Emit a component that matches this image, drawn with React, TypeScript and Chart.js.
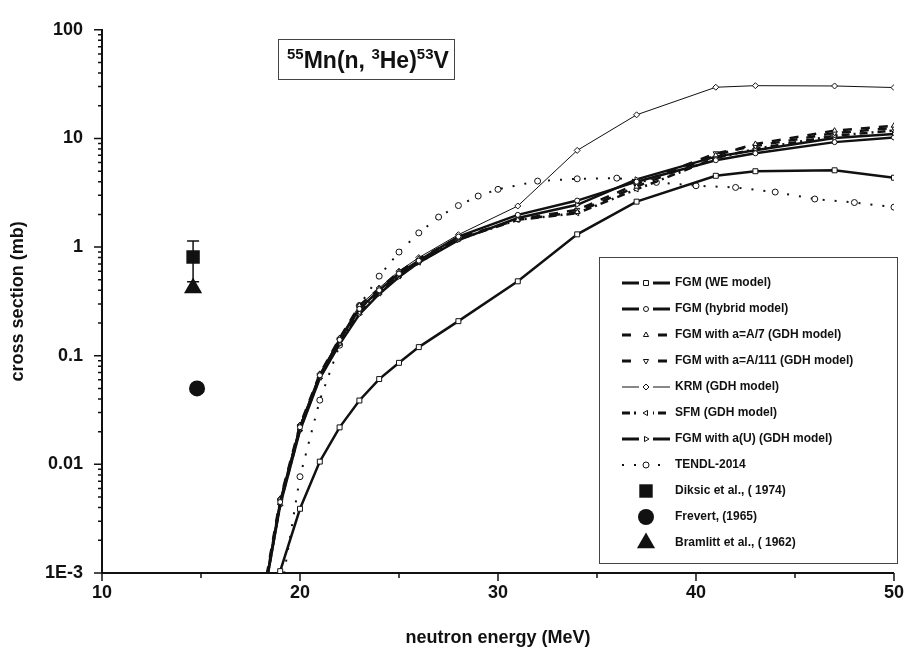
import { useEffect, useRef } from "react";
import { Chart, registerables } from "chart.js";
import { drawPoint } from "chart.js/helpers";

Chart.register(...registerables);

const FONT = "'Liberation Sans', Arial, Helvetica, sans-serif";

// ---- data ----
const modelEnergies = [18, 19, 20, 21, 22, 23, 24, 25, 26, 28, 31, 34, 37, 41, 43, 47, 50];
const fgmWE = [0.0001, 0.00104, 0.0039, 0.0106, 0.0219, 0.0387, 0.061, 0.086, 0.12, 0.208, 0.484, 1.31, 2.62, 4.53, 4.99, 5.09, 4.35];
const fgmHybrid = [0.0004, 0.0045, 0.022, 0.066, 0.14, 0.27, 0.4, 0.57, 0.75, 1.25, 1.98, 2.68, 4.0, 6.3, 7.3, 9.25, 10.2];
const fgmA7 = [0.00045, 0.0048, 0.023, 0.068, 0.145, 0.29, 0.415, 0.59, 0.78, 1.22, 1.78, 2.1, 3.6, 7.0, 8.9, 11.8, 13.1];
const fgmA111 = [0.00042, 0.0046, 0.022, 0.065, 0.138, 0.27, 0.39, 0.56, 0.74, 1.2, 1.8, 2.2, 3.8, 7.3, 8.5, 11.2, 12.5];
const krm = [0.00045, 0.0048, 0.023, 0.068, 0.145, 0.29, 0.42, 0.6, 0.8, 1.3, 2.39, 7.76, 16.5, 29.6, 30.6, 30.4, 29.4];
const sfm = [0.0004, 0.0043, 0.021, 0.063, 0.13, 0.25, 0.375, 0.54, 0.72, 1.18, 1.78, 2.05, 3.4, 6.6, 8.0, 10.6, 11.8];
const fgmAU = [0.0004, 0.0042, 0.0205, 0.062, 0.128, 0.24, 0.37, 0.53, 0.72, 1.16, 1.85, 2.45, 4.2, 6.8, 7.8, 10.1, 11.0];

const tendlEnergies = [19, 20, 21, 22, 23, 24, 25, 26, 27, 28, 29, 30, 32, 34, 36, 38, 40, 42, 44, 46, 48, 50];
const tendlValues = [0.0006, 0.0077, 0.039, 0.125, 0.29, 0.54, 0.9, 1.35, 1.89, 2.41, 2.95, 3.4, 4.05, 4.25, 4.31, 3.94, 3.67, 3.54, 3.21, 2.77, 2.57, 2.33];

const diksicE = [14.6];
const diksicV = [0.81];
const diksicLow = [0.48];
const diksicHigh = [1.14];
const frevertE = [14.8];
const frevertV = [0.05];
const bramlittE = [14.6];
const bramlittV = [0.42];

const xMin = 10;
const xMax = 50;
const xTickValues = [10, 20, 30, 40, 50];
const xMinorTickValues = [15, 25, 35, 45];
const yTickValues = [0.001, 0.01, 0.1, 1, 10, 100];
const yTickLabels = ["1E-3", "0.01", "0.1", "1", "10", "100"];
const yMinorMultipliers = [2, 3, 4, 5, 6, 7, 8, 9];

const titleParts: [string, boolean][] = [
  ["55", true],
  ["Mn(n, ", false],
  ["3", true],
  ["He)", false],
  ["53", true],
  ["V", false],
];

const pts = (xs: number[], ys: number[]) => xs.map((x, i) => ({ x, y: ys[i] }));

const INK = "#111";

function lineDs(label: string, xs: number[], ys: number[], s: any) {
  return {
    label,
    data: pts(xs, ys),
    borderColor: INK,
    backgroundColor: "#fff",
    borderWidth: s.width,
    borderDash: s.dash || [],
    pointStyle: s.point,
    pointRadius: s.r,
    pointRotation: s.rot || 0,
    pointBorderWidth: 1,
    pointBorderColor: INK,
    pointBackgroundColor: "#fff",
    showLine: true,
    tension: 0,
    fill: false,
    legendWidth: s.legendWidth || s.width,
  };
}

function expDs(label: string, xs: number[], ys: number[], s: any) {
  return {
    label,
    data: pts(xs, ys),
    borderColor: INK,
    backgroundColor: INK,
    borderWidth: 0,
    pointStyle: s.point,
    pointRadius: s.r,
    pointRotation: 0,
    pointBorderWidth: 0,
    pointBorderColor: INK,
    pointBackgroundColor: INK,
    showLine: false,
  };
}

const decorPlugin = {
  id: "decor",
  afterDatasetsDraw(chart: any) {
    const ctx = chart.ctx as CanvasRenderingContext2D;
    const { left, bottom } = chart.chartArea;
    const xs = chart.scales.x;
    const ys = chart.scales.y;
    ctx.save();

    // error bars for Diksic
    ctx.strokeStyle = INK;
    ctx.lineWidth = 1.5;
    diksicE.forEach((e, i) => {
      const px = xs.getPixelForValue(e);
      const pl = ys.getPixelForValue(diksicLow[i]);
      const ph = ys.getPixelForValue(diksicHigh[i]);
      ctx.beginPath();
      ctx.moveTo(px, pl);
      ctx.lineTo(px, ph);
      ctx.moveTo(px - 6, ph);
      ctx.lineTo(px + 6, ph);
      ctx.moveTo(px - 6, pl);
      ctx.lineTo(px + 6, pl);
      ctx.stroke();
    });

    // axis ticks (outward)
    ctx.lineWidth = 1.5;
    ctx.beginPath();
    yTickValues.forEach((d) => {
      const py = ys.getPixelForValue(d);
      ctx.moveTo(left - 8, py);
      ctx.lineTo(left, py);
      if (d < 100) {
        yMinorMultipliers.forEach((m) => {
          const pm = ys.getPixelForValue(d * m);
          ctx.moveTo(left - 4, pm);
          ctx.lineTo(left, pm);
        });
      }
    });
    xTickValues.forEach((v) => {
      const px = xs.getPixelForValue(v);
      ctx.moveTo(px, bottom);
      ctx.lineTo(px, bottom + 8);
    });
    xMinorTickValues.forEach((v) => {
      const px = xs.getPixelForValue(v);
      ctx.moveTo(px, bottom);
      ctx.lineTo(px, bottom + 5);
    });
    ctx.stroke();

    // title box
    ctx.fillStyle = "#fff";
    ctx.fillRect(278, 39, 176, 40);
    ctx.strokeStyle = "#444";
    ctx.lineWidth = 1;
    ctx.strokeRect(278.5, 39.5, 176, 40);
    ctx.fillStyle = INK;
    ctx.textBaseline = "alphabetic";
    ctx.textAlign = "left";
    let tx = 287;
    const base = 68;
    titleParts.forEach(([t, sup]) => {
      ctx.font = sup ? `bold 15px ${FONT}` : `bold 23px ${FONT}`;
      ctx.fillText(t, tx, sup ? base - 9 : base);
      tx += ctx.measureText(t).width;
    });

    // legend
    ctx.fillStyle = "#fff";
    ctx.fillRect(599, 257, 298, 306);
    ctx.strokeStyle = "#444";
    ctx.lineWidth = 1;
    ctx.strokeRect(599.5, 257.5, 298, 306);
    chart.data.datasets.forEach((ds: any, i: number) => {
      const y = 283 + i * 26;
      const cx = 646;
      if (ds.showLine) {
        ctx.strokeStyle = INK;
        ctx.lineWidth = ds.legendWidth;
        ctx.setLineDash(ds.borderDash || []);
        ctx.beginPath();
        ctx.moveTo(622, y);
        ctx.lineTo(670, y);
        ctx.stroke();
        ctx.setLineDash([]);
        ctx.fillStyle = "#fff";
        ctx.fillRect(cx - 7, y - 4, 14, 8);
      }
      ctx.fillStyle = ds.pointBackgroundColor;
      ctx.strokeStyle = INK;
      ctx.lineWidth = ds.pointBorderWidth;
      drawPoint(
        ctx,
        {
          pointStyle: ds.pointStyle,
          radius: ds.pointRadius,
          rotation: ds.pointRotation,
          borderWidth: ds.pointBorderWidth,
        } as any,
        cx,
        y
      );
      ctx.fillStyle = INK;
      ctx.font = `bold 12px ${FONT}`;
      ctx.textBaseline = "middle";
      ctx.textAlign = "left";
      ctx.fillText(ds.label, 675, y);
    });

    ctx.restore();
  },
};

export default function App() {
  const ref = useRef<HTMLCanvasElement | null>(null);

  useEffect(() => {
    if (!ref.current) return;
    const datasets: any[] = [
      lineDs("FGM (WE model)", modelEnergies, fgmWE, { width: 2.5, legendWidth: 3, point: "rect", r: 3.5 }),
      lineDs("FGM (hybrid model)", modelEnergies, fgmHybrid, { width: 2.5, legendWidth: 3, point: "circle", r: 2.5 }),
      lineDs("FGM with a=A/7 (GDH model)", modelEnergies, fgmA7, { width: 2.5, legendWidth: 3, dash: [9, 9], point: "triangle", r: 3 }),
      lineDs("FGM with a=A/111 (GDH model)", modelEnergies, fgmA111, { width: 2.5, legendWidth: 3, dash: [9, 9], point: "triangle", r: 3, rot: 180 }),
      lineDs("KRM (GDH model)", modelEnergies, krm, { width: 1, point: "rectRot", r: 3 }),
      lineDs("SFM (GDH model)", modelEnergies, sfm, { width: 2.5, legendWidth: 3, dash: [8, 4, 2, 4], point: "triangle", r: 3, rot: -90 }),
      lineDs("FGM with a(U) (GDH model)", modelEnergies, fgmAU, { width: 2.5, legendWidth: 3, point: "triangle", r: 3, rot: 90 }),
      lineDs("TENDL-2014", tendlEnergies, tendlValues, { width: 2, dash: [2, 10], point: "circle", r: 3 }),
      expDs("Diksic et al., ( 1974)", diksicE, diksicV, { point: "rect", r: 9.5 }),
      expDs("Frevert, (1965)", frevertE, frevertV, { point: "circle", r: 8 }),
      expDs("Bramlitt et al., ( 1962)", bramlittE, bramlittV, { point: "triangle", r: 10.5 }),
    ];

    const chart = new Chart(ref.current, {
      type: "line",
      data: { datasets },
      plugins: [decorPlugin],
      options: {
        animation: false,
        responsive: false,
        devicePixelRatio: 1,
        events: [],
        layout: { padding: { top: 25, right: 10, left: 0, bottom: 0 } },
        plugins: { legend: { display: false }, tooltip: { enabled: false } },
        scales: {
          x: {
            type: "linear",
            min: xMin,
            max: xMax,
            afterFit: (s: any) => {
              s.height = 80;
            },
            afterBuildTicks: (s: any) => {
              s.ticks = xTickValues.map((v) => ({ value: v }));
            },
            grid: { display: false, drawTicks: false },
            border: { display: true, color: INK, width: 2 },
            ticks: {
              color: INK,
              padding: 9,
              maxRotation: 0,
              font: { family: FONT, size: 18, weight: "bold" },
              callback: (v: any) => String(v),
            },
            title: {
              display: true,
              text: "neutron energy (MeV)",
              color: INK,
              font: { family: FONT, size: 18, weight: "bold" },
              padding: { top: 0, bottom: 4 },
            },
          },
          y: {
            type: "logarithmic",
            min: yTickValues[0],
            max: yTickValues[yTickValues.length - 1],
            afterFit: (s: any) => {
              s.width = 102;
            },
            afterBuildTicks: (s: any) => {
              s.ticks = yTickValues.map((v) => ({ value: v }));
            },
            grid: { display: false, drawTicks: false },
            border: { display: true, color: INK, width: 2 },
            ticks: {
              color: INK,
              padding: 19,
              font: { family: FONT, size: 18, weight: "bold" },
              callback: (v: any) => {
                const i = yTickValues.findIndex((t) => Math.abs(t - v) / t < 1e-6);
                return i >= 0 ? yTickLabels[i] : "";
              },
            },
            title: {
              display: true,
              text: "cross section (mb)",
              color: INK,
              font: { family: FONT, size: 18, weight: "bold" },
              padding: { top: 7, bottom: 0 },
            },
          },
        },
      } as any,
    });
    return () => chart.destroy();
  }, []);

  return (
    <div style={{ position: "fixed", left: 0, top: 0, width: 913, height: 653, background: "#fff" }}>
      <canvas ref={ref} width={913} height={653} />
    </div>
  );
}
